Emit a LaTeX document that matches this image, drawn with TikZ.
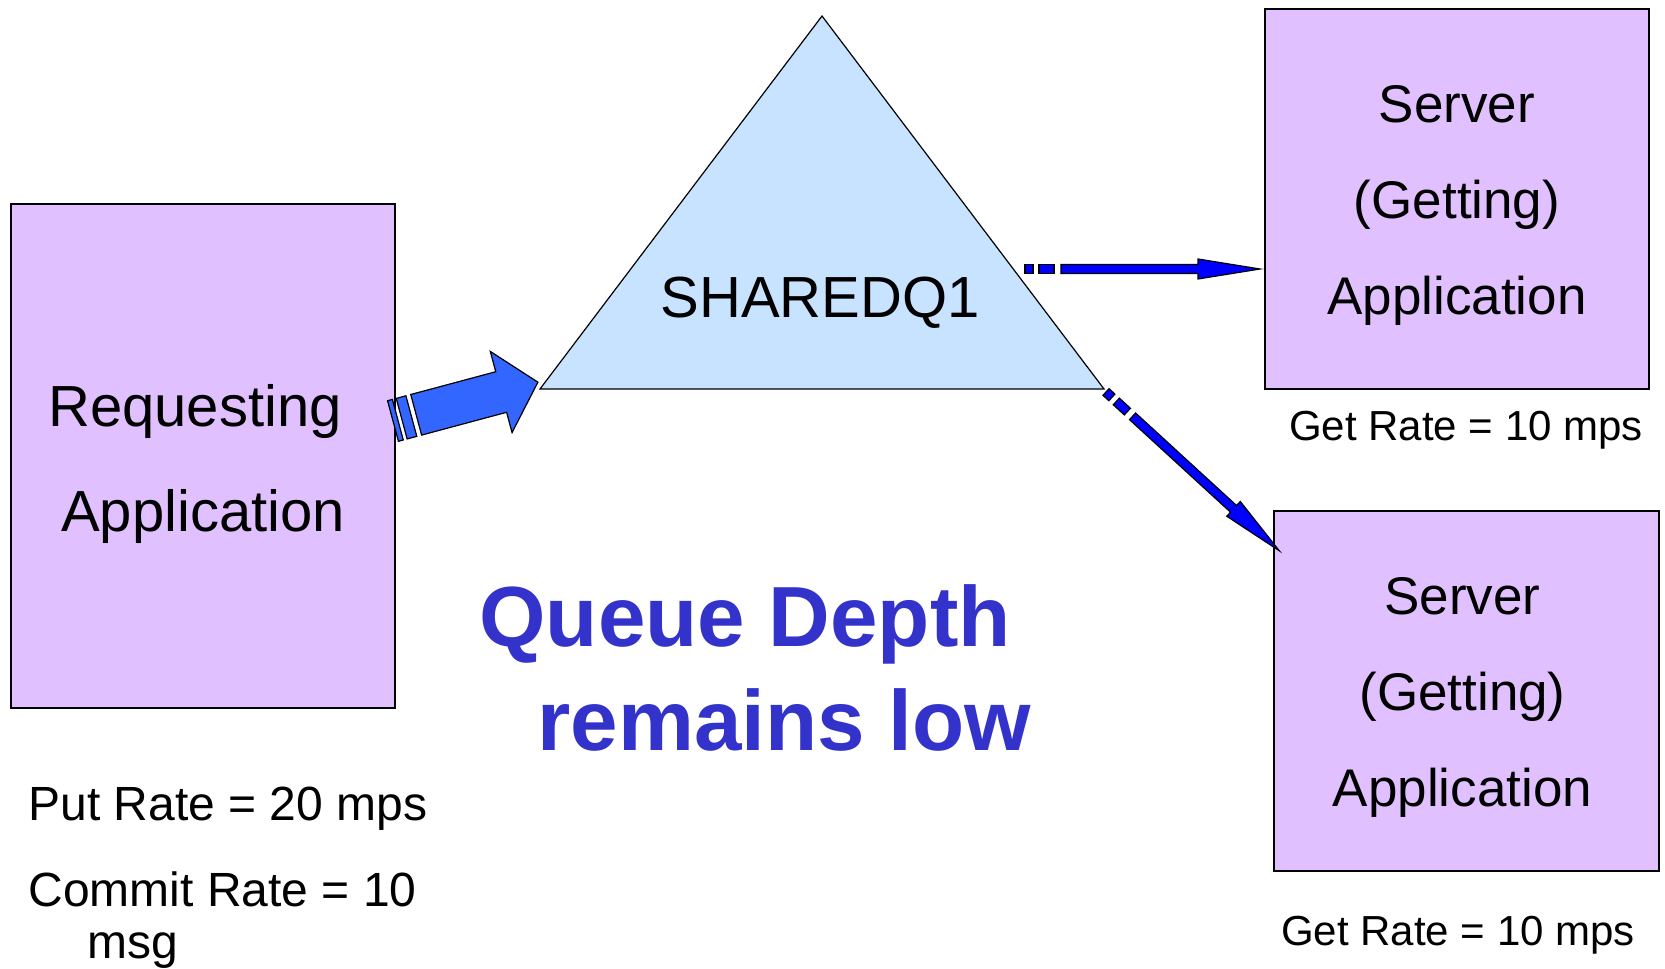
\documentclass[tikz,border=0pt]{standalone}
\usepackage{fontspec}
\setmainfont{Liberation Sans}
\usepackage{tikz}
\usetikzlibrary{positioning}
\definecolor{applilac}{HTML}{E0C0FF}
\definecolor{queuesky}{HTML}{C8E3FF}
\definecolor{flowblue}{HTML}{3366FF}
\definecolor{pureblue}{HTML}{0000FF}
\definecolor{depthblue}{HTML}{3333CC}

\tikzset{
    pics/thinarrow/.style={code={
        \filldraw[stripe, fill=pureblue] (0,-4.5) rectangle (8,4.5);
        \filldraw[stripe, fill=pureblue] (14,-4.5) rectangle (29,4.5);
        \filldraw[stripe, fill=pureblue] (36,-4.5) -- (173,-4.5) -- (173,-10) -- (235,0)
            -- (173,10) -- (173,4.5) -- (36,4.5) -- cycle;
    }}
}

\begin{document}
\begin{tikzpicture}[
    x=0.5pt, y=-0.5pt,
    every node/.style={font=\fontsize{29}{52.5}\selectfont},
    appbox/.style={draw=black, line width=0.8pt, fill=applilac, inner sep=0pt},
    boxtext/.style={align=center, inner sep=0pt},
    ratelabel/.style={font=\fontsize{21}{25}\selectfont, inner sep=0pt},
    putlabel/.style={font=\fontsize{24}{29}\selectfont, inner sep=0pt, anchor=base west},
    depthlabel/.style={font=\fontsize{42.7}{50}\selectfont\bfseries, text=depthblue, inner sep=0pt, anchor=base west},
    stripe/.style={draw=black, line width=0.6pt, line join=miter}
]
    \useasboundingbox (0,0) rectangle (1665,969);

    % === APPLICATIONS ===
    \node[appbox, minimum width=192pt, minimum height=252pt] (requester) at (203,456) {};
    \node[boxtext] (requestertext) at ([yshift=-3.8pt]requester.center)
        {\hspace*{-8pt}Requesting\\Application};
    \node[appbox, minimum width=192pt, minimum height=190pt] (servertop) at (1457,199) {};
    \node[boxtext, font=\fontsize{26.5}{48}\selectfont] (servertoptext)
        at ([yshift=-3.2pt]servertop.center) {Server\\(Getting)\\Application};
    \node[appbox, minimum width=192.5pt, minimum height=180pt] (serverbot) at (1466.5,691) {};
    \node[boxtext, font=\fontsize{26.5}{48}\selectfont] (serverbottext)
        at ([xshift=-2pt, yshift=-3.2pt]serverbot.center) {Server\\(Getting)\\Application};

    % === SHARED QUEUE ===
    \coordinate (qapex) at (822,16);
    \coordinate (qleft) at (540,389);
    \coordinate (qright) at (1104,389);
    \filldraw[fill=queuesky, draw=black, line width=0.6pt] (qapex) -- (qleft) -- (qright) -- cycle;
    \node (queue) at (820,303) {SHAREDQ1};

    % Fat put arrow into the queue
    \coordinate (puttail) at (393,421);
    \begin{scope}[shift={(puttail)}, rotate=15]
        \filldraw[stripe, fill=flowblue] (0,-21) rectangle (5,21);
        \filldraw[stripe, fill=flowblue] (9,-21) rectangle (19,21);
        \filldraw[stripe, fill=flowblue] (24,-21) -- (112,-21) -- (112,-42) -- (150,0)
            -- (112,42) -- (112,21) -- (24,21) -- cycle;
    \end{scope}

    % Get arrows out of the queue
    \coordinate (gettailtop) at (1025,269);
    \coordinate (gettailbot) at (1106,392);
    \pic at (gettailtop) {thinarrow};
    \pic[rotate=-42.5] at (gettailbot) {thinarrow};

    % === RATES ===
    \node[ratelabel] (getratetop) at (1466,430) {Get Rate = 10 mps};
    \node[ratelabel] (getratebot) at (1458,935) {Get Rate = 10 mps};
    \node[putlabel] (putrate) at (28,820) {Put Rate = 20 mps};
    \node[putlabel] (commitrate) at (28,906) {Commit Rate = 10};
    \node[putlabel] (commitunit) at (87,958) {msg};

    % Queue depth message
    \node[depthlabel] (depthone) at (479,646) {Queue Depth};
    \node[depthlabel] (depthtwo) at (537,750) {remains low};
\end{tikzpicture}
\end{document}
